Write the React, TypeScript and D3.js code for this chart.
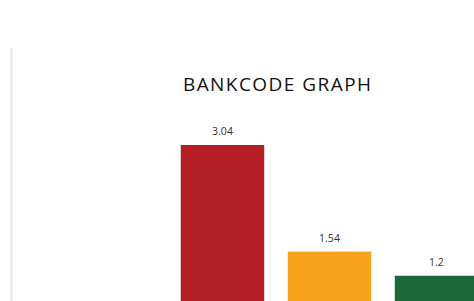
import React, { useEffect, useRef } from 'react';
import * as d3 from 'd3';

const categories = ['BANK A', 'BANK B', 'BANK C'];
const values = [3.04, 1.54, 1.2];
const colors = ['#b31e24', '#f9a11c', '#1c6838'];
const title = 'BANKCODE GRAPH';

const W = 474;
const H = 301;

const App: React.FC = () => {
  const ref = useRef<SVGSVGElement>(null);

  useEffect(() => {
    const svg = d3.select(ref.current!);
    svg.selectAll('*').remove();

    // card edge on the left
    svg
      .append('rect')
      .attr('x', 10)
      .attr('y', 48)
      .attr('width', 3)
      .attr('height', H - 48)
      .attr('fill', '#efefef');

    svg
      .append('text')
      .attr('x', 277.7)
      .attr('y', 91)
      .attr('text-anchor', 'middle')
      .attr('font-family', '"Open Sans", sans-serif')
      .attr('font-size', 19)
      .attr('letter-spacing', 1.45)
      .attr('fill', '#111')
      .text(title);

    const x = d3
      .scaleBand<string>()
      .domain(categories)
      .range([169, 169 + 3 * 107])
      .paddingInner(0.22)
      .paddingOuter(0.11);

    const y = d3.scaleLinear().domain([0, 3.04]).range([361, 145]);

    const g = svg.append('g');

    g.selectAll('rect.bar')
      .data(values)
      .enter()
      .append('rect')
      .attr('class', 'bar')
      .attr('x', (_, i) => x(categories[i]) as number)
      .attr('y', (d) => y(d))
      .attr('width', x.bandwidth())
      .attr('height', (d) => y(0) - y(d))
      .attr('fill', (_, i) => colors[i]);

    g.selectAll('text.lbl')
      .data(values)
      .enter()
      .append('text')
      .attr('class', 'lbl')
      .attr('x', (_, i) => (x(categories[i]) as number) + x.bandwidth() / 2)
      .attr('y', (d) => y(d) - 10)
      .attr('text-anchor', 'middle')
      .attr('font-family', '"Open Sans", sans-serif')
      .attr('font-size', 10.5)
      .attr('fill', '#333')
      .text((d) => String(d));
  }, []);

  return (
    <div style={{ position: 'absolute', left: 0, top: 0, width: W, height: H, overflow: 'hidden', background: '#fff' }}>
      <svg ref={ref} width={W} height={H} style={{ display: 'block' }} />
    </div>
  );
};

export default App;
